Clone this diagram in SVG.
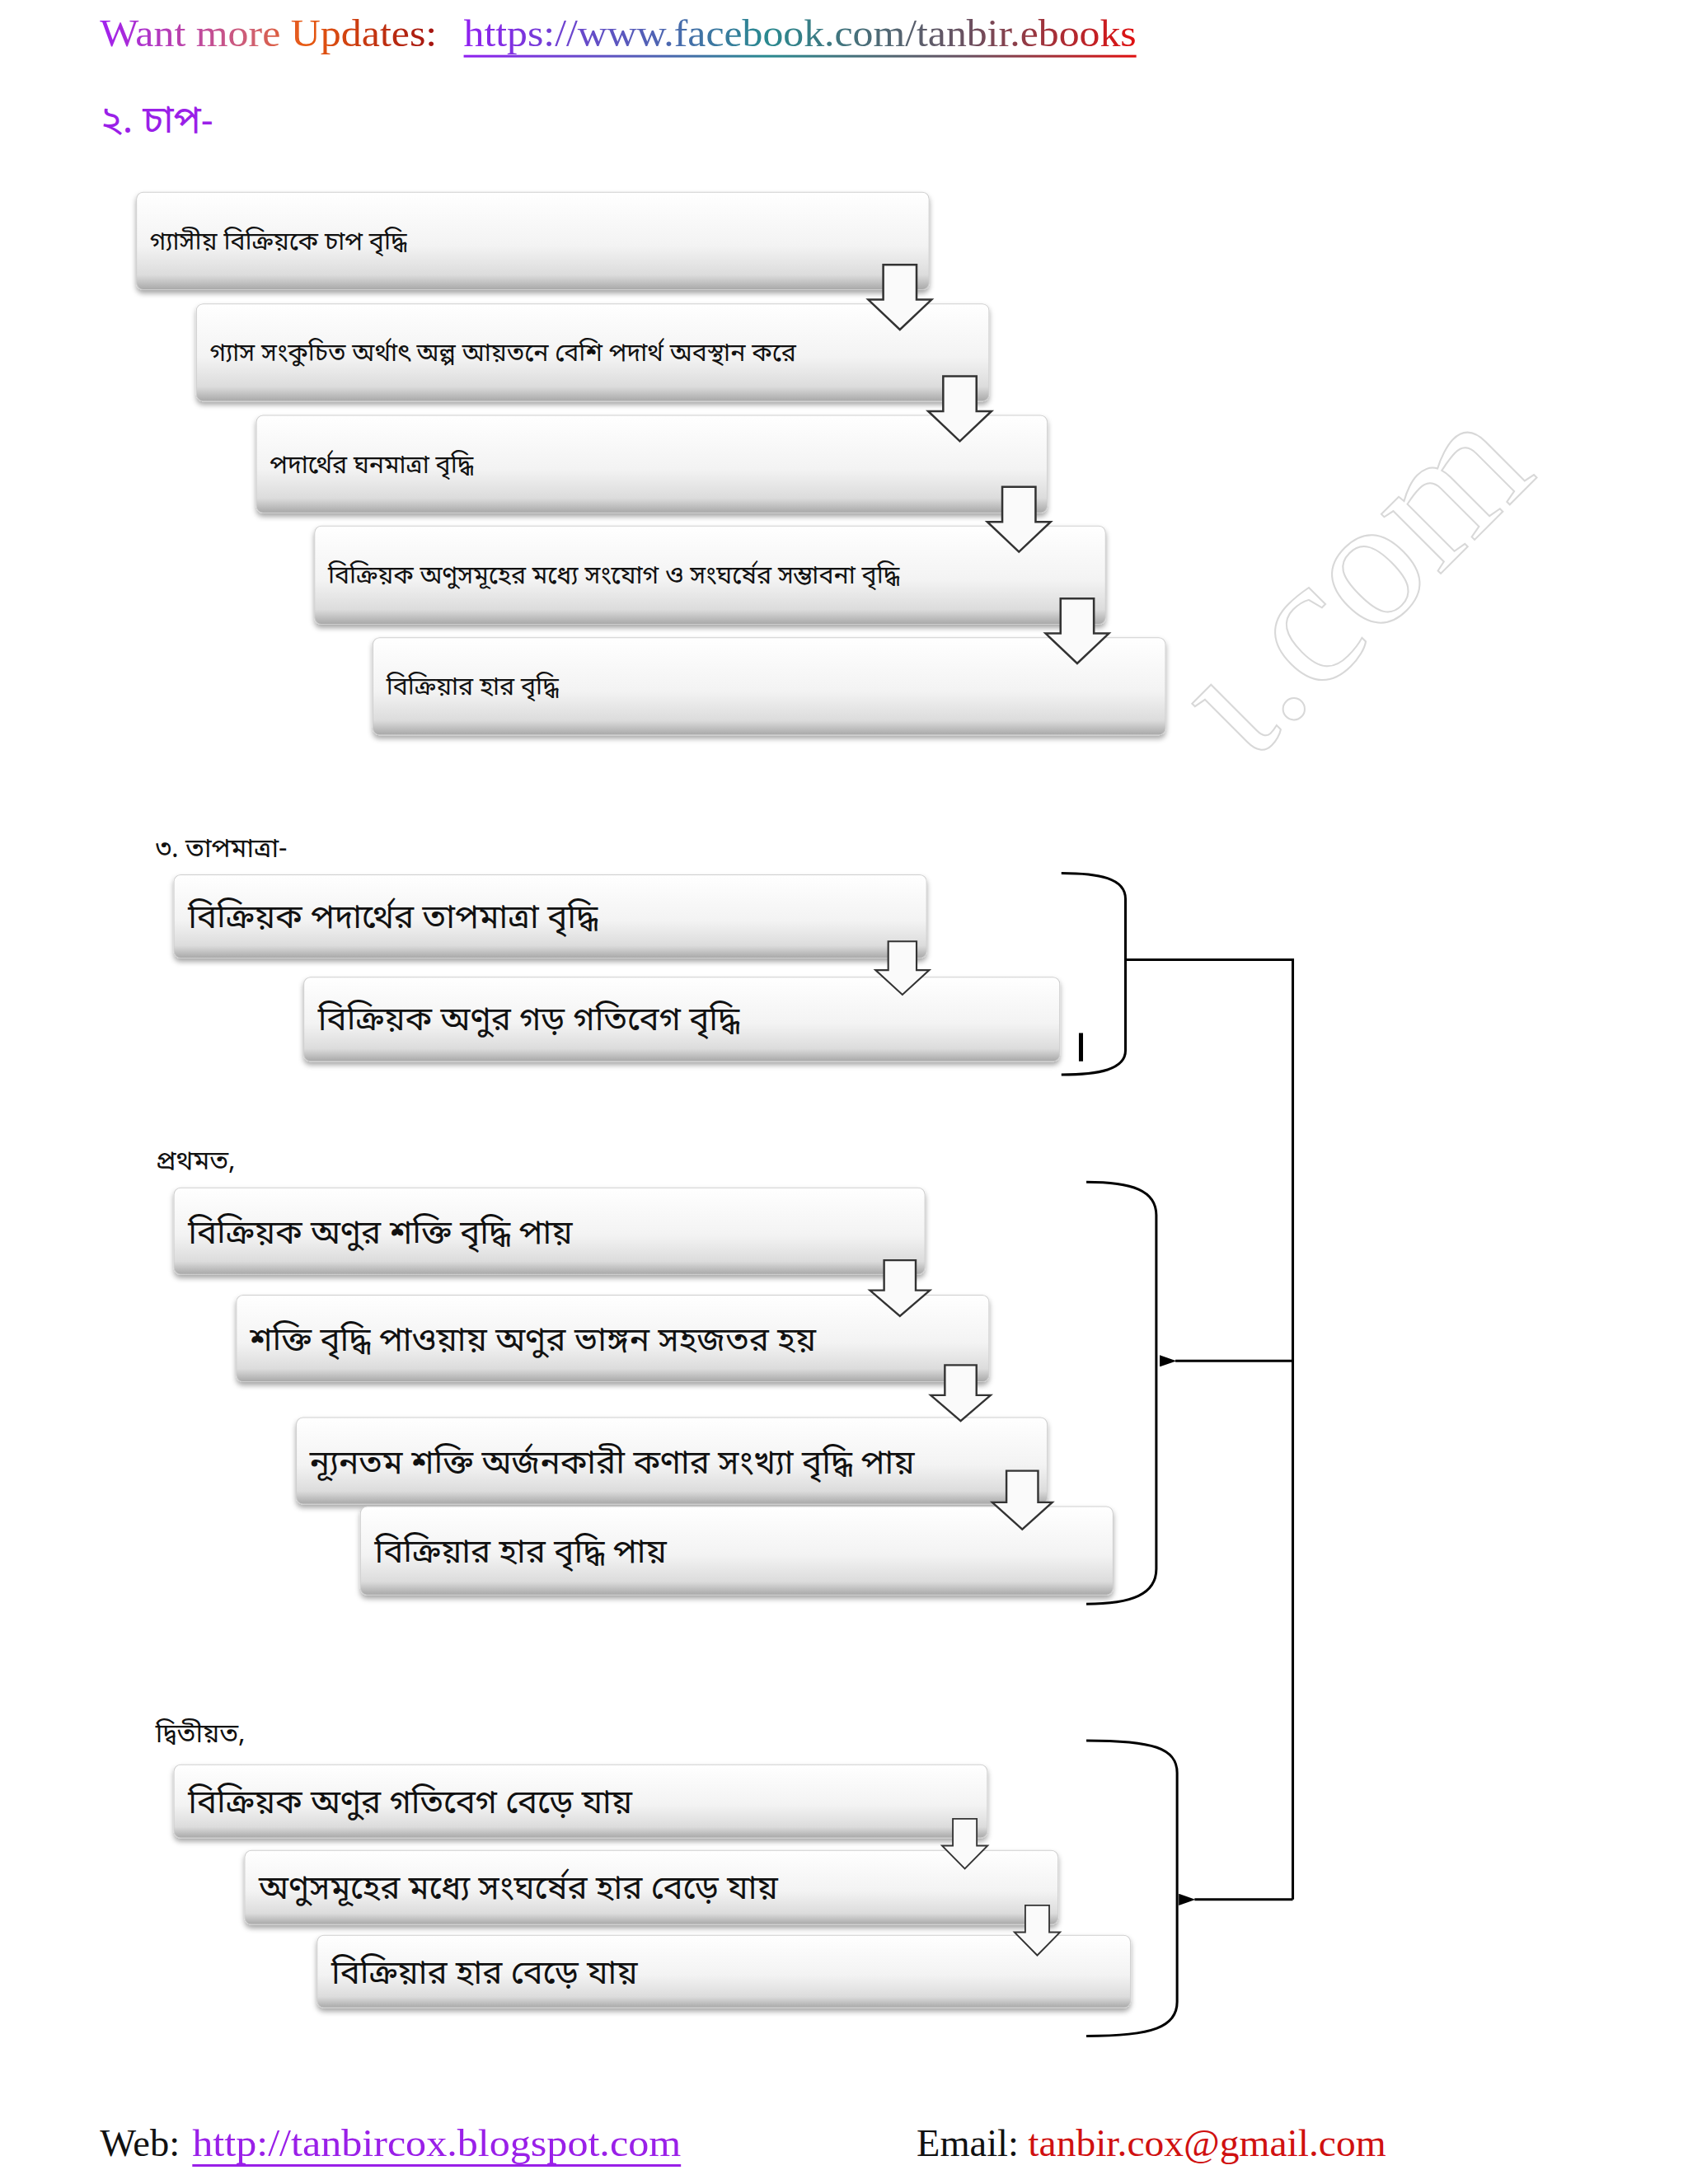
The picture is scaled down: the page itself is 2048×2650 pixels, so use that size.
<svg xmlns="http://www.w3.org/2000/svg" width="2048" height="2650" viewBox="0 0 2048 2650">
<defs>
<linearGradient id="box" x1="0" y1="0" x2="0" y2="1">
<stop offset="0" stop-color="#ffffff"/><stop offset="0.55" stop-color="#f3f3f3"/><stop offset="0.85" stop-color="#dcdcdc"/><stop offset="1" stop-color="#a8a8a8"/>
</linearGradient>
<linearGradient id="hdr" gradientUnits="userSpaceOnUse" x1="120" y1="0" x2="530" y2="0">
<stop offset="0" stop-color="#a020f0"/><stop offset="0.45" stop-color="#d06070"/><stop offset="0.6" stop-color="#e85a10"/><stop offset="1" stop-color="#a01010"/>
</linearGradient>
<linearGradient id="lnk" gradientUnits="userSpaceOnUse" x1="557" y1="0" x2="1365" y2="0">
<stop offset="0" stop-color="#9020f0"/><stop offset="0.45" stop-color="#2a8a90"/><stop offset="0.75" stop-color="#6a5060"/><stop offset="1" stop-color="#e01010"/>
</linearGradient>
<filter id="sh" x="-5%" y="-20%" width="110%" height="150%">
<feDropShadow dx="0" dy="4" stdDeviation="3" flood-color="#000" flood-opacity="0.35"/>
</filter>
<path id="arw" d="M-20,0 H20 V42 H38 L0,78 L-38,42 H-20 Z" fill="#fafafa" stroke="#333" stroke-width="2.5"/>
<marker id="ml" viewBox="0 0 20 14" refX="1" refY="7" markerWidth="20" markerHeight="14" markerUnits="userSpaceOnUse" orient="auto-start-reverse">
<path d="M20,0 L0,7 L20,14 Z" fill="#000"/>
</marker>
<style>
.b{fill:url(#box);stroke:#cfcfcf;stroke-width:1;filter:url(#sh)}
.t1{font-family:"Noto Sans Bengali","Noto Sans",sans-serif;font-size:30px;fill:#111}
.t2{font-family:"Noto Sans Bengali","Noto Sans",sans-serif;font-size:40px;fill:#111}
.h{font-family:"Noto Sans Bengali","Noto Sans",sans-serif;font-size:32px;fill:#111}
.ser{font-family:"Liberation Serif","DejaVu Serif",serif;font-size:46px}
.ln{fill:none;stroke:#000;stroke-width:3}
</style>
</defs>
<rect width="2048" height="2650" fill="#fff"/>
<g transform="scale(1.01)">
<g id="header">
<text class="ser" x="120" y="55" fill="url(#hdr)" textLength="405" lengthAdjust="spacingAndGlyphs">Want more Updates:</text>
<text class="ser" x="557" y="55" fill="url(#lnk)" textLength="808" lengthAdjust="spacingAndGlyphs">https://www.facebook.com/tanbir.ebooks</text>
<rect x="557" y="66" width="808" height="3" fill="url(#lnk)"/>
<text x="120" y="159" font-family="Noto Sans Bengali,Noto Sans,sans-serif" font-size="46" fill="#9a20e8">২. চাপ-</text>
</g>
<text x="1500" y="920" transform="rotate(-45 1500 920)" font-family="Liberation Serif,serif" font-size="220" fill="none" stroke="#d8d8d8" stroke-width="2">ι.com</text>
<g id="s1">
<g id="n1"><rect class="b" x="164" y="231" width="952" height="117" rx="8"/><text class="t1" x="180" y="300">গ্যাসীয় বিক্রিয়কে চাপ বৃদ্ধি</text></g>
<g id="n2"><rect class="b" x="236" y="365" width="952" height="117" rx="8"/><text class="t1" x="252" y="434">গ্যাস সংকুচিত অর্থাৎ অল্প আয়তনে বেশি পদার্থ অবস্থান করে</text></g>
<g id="n3"><rect class="b" x="308" y="499" width="950" height="117" rx="8"/><text class="t1" x="324" y="568">পদার্থের ঘনমাত্রা বৃদ্ধি</text></g>
<g id="n4"><rect class="b" x="378" y="632" width="950" height="118" rx="8"/><text class="t1" x="394" y="701">বিক্রিয়ক অণুসমূহের মধ্যে সংযোগ ও সংঘর্ষের সম্ভাবনা বৃদ্ধি</text></g>
<g id="n5"><rect class="b" x="448" y="766" width="952" height="117" rx="8"/><text class="t1" x="464" y="835">বিক্রিয়ার হার বৃদ্ধি</text></g>
</g>
<g id="s3">
<text class="h" x="187" y="1030">৩. তাপমাত্রা-</text>
<g id="c1"><rect class="b" x="209" y="1051" width="904" height="100" rx="8"/><text class="t2" x="226" y="1115">বিক্রিয়ক পদার্থের তাপমাত্রা বৃদ্ধি</text></g>
<g id="c2"><rect class="b" x="365" y="1174" width="908" height="101" rx="8"/><text class="t2" x="382" y="1238">বিক্রিয়ক অণুর গড় গতিবেগ বৃদ্ধি</text></g>
<rect x="1296" y="1241" width="5" height="34" fill="#000"/>
<text class="h" x="187" y="1405">প্রথমত,</text>
<g id="d1"><rect class="b" x="209" y="1427" width="902" height="104" rx="8"/><text class="t2" x="226" y="1494">বিক্রিয়ক অণুর শক্তি বৃদ্ধি পায়</text></g>
<g id="d2"><rect class="b" x="284" y="1556" width="904" height="104" rx="8"/><text class="t2" x="300" y="1623">শক্তি বৃদ্ধি পাওয়ায় অণুর ভাঙ্গন সহজতর হয়</text></g>
<g id="d3"><rect class="b" x="356" y="1703" width="902" height="104" rx="8"/><text class="t2" x="372" y="1770">ন্যূনতম শক্তি অর্জনকারী কণার সংখ্যা বৃদ্ধি পায়</text></g>
<g id="d4"><rect class="b" x="433" y="1810" width="904" height="106" rx="8"/><text class="t2" x="450" y="1877">বিক্রিয়ার হার বৃদ্ধি পায়</text></g>
<text class="h" x="187" y="2093">দ্বিতীয়ত,</text>
<g id="e1"><rect class="b" x="209" y="2120" width="977" height="88" rx="8"/><text class="t2" x="226" y="2178">বিক্রিয়ক অণুর গতিবেগ বেড়ে যায়</text></g>
<g id="e2"><rect class="b" x="294" y="2223" width="977" height="89" rx="8"/><text class="t2" x="311" y="2281">অণুসমূহের মধ্যে সংঘর্ষের হার বেড়ে যায়</text></g>
<g id="e3"><rect class="b" x="381" y="2325" width="977" height="87" rx="8"/><text class="t2" x="398" y="2383">বিক্রিয়ার হার বেড়ে যায়</text></g>
</g>
<g id="arrows">
<use href="#arw" transform="translate(1081 318)"/>
<use href="#arw" transform="translate(1153 452)"/>
<use href="#arw" transform="translate(1224 585)"/>
<use href="#arw" transform="translate(1294 719)"/>
<use href="#arw" transform="translate(1084 1131) scale(0.85 0.82)"/>
<use href="#arw" transform="translate(1081 1514) scale(0.95 0.86)"/>
<use href="#arw" transform="translate(1154 1640) scale(0.95 0.86)"/>
<use href="#arw" transform="translate(1228 1767) scale(0.95 0.9)"/>
<use href="#arw" transform="translate(1159 2185) scale(0.72 0.77)"/>
<use href="#arw" transform="translate(1246 2289) scale(0.72 0.77)"/>
</g>
<g id="connectors">
<path class="ln" d="M1275,1049 C1320,1049 1352,1055 1352,1080 V1262 C1352,1285 1320,1291 1275,1291"/>
<path class="ln" d="M1305,1420 C1360,1420 1389,1430 1389,1460 V1885 C1389,1915 1360,1927 1305,1927"/>
<path class="ln" d="M1305,2091 C1385,2091 1414,2100 1414,2130 V2405 C1414,2435 1385,2446 1305,2446"/>
<path class="ln" d="M1352,1153 H1553 V2282"/>
<path class="ln" d="M1553,1635 H1412" marker-end="url(#ml)"/>
<path class="ln" d="M1553,2282 H1435" marker-end="url(#ml)"/>
</g>
<g id="footer">
<text class="ser" x="120" y="2590" fill="#111">Web:</text>
<text class="ser" x="231" y="2590" fill="#9a20e8" textLength="587" lengthAdjust="spacingAndGlyphs">http://tanbircox.blogspot.com</text>
<rect x="231" y="2600" width="587" height="3" fill="#9a20e8"/>
<text class="ser" x="1101" y="2590" fill="#111">Email:</text>
<text class="ser" x="1235" y="2590" fill="#d01010" textLength="430" lengthAdjust="spacingAndGlyphs">tanbir.cox@gmail.com</text>
</g>
</g>
</svg>
